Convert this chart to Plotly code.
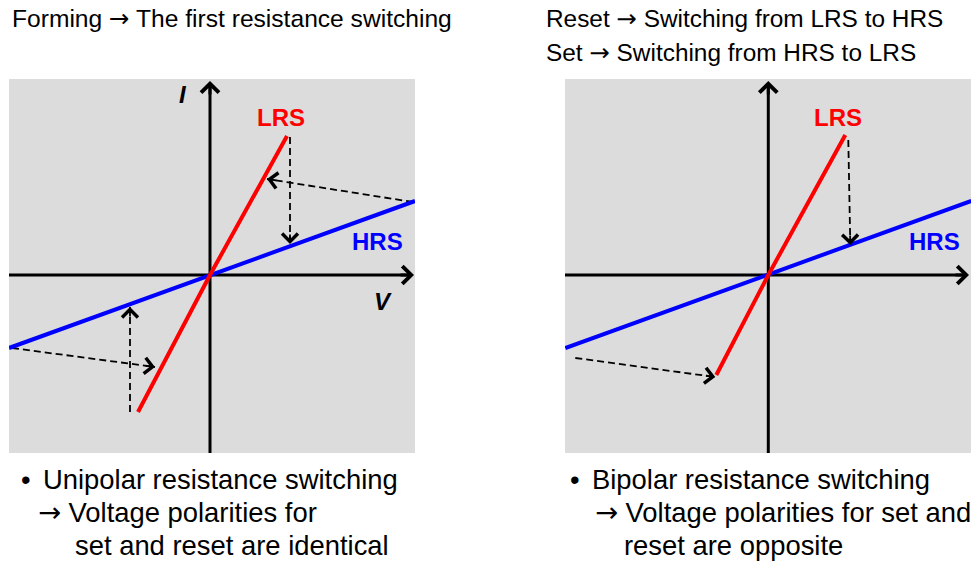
import math
import plotly.graph_objects as go

W, H = 979, 562
FONT = "Liberation Sans, Arial, sans-serif"
BG = "#DCDCDC"
ARROW = '<span style="font-family:DejaVu Sans">\u2192</span>'

# ---- I-V branches (V, I in arbitrary units) ----
# unipolar switching panel
uni_lrs_v = [-0.72, 0.0, 0.77]
uni_lrs_i = [-1.37, 0.0, 1.39]
uni_hrs_v = [-2.01, 0.0, 2.05]
uni_hrs_i = [-0.73, 0.0, 0.74]

# bipolar switching panel
bi_lrs_v = [-0.52, 0.0, 0.77]
bi_lrs_i = [-1.00, 0.0, 1.40]
bi_hrs_v = [-2.03, 0.0, 2.03]
bi_hrs_i = [-0.73, 0.0, 0.74]

# switching paths: start V, start I, end V, end I
uni_paths_v0 = [0.80, 2.03, -1.98, -0.80]
uni_paths_i0 = [1.38, 0.73, -0.73, -1.37]
uni_paths_v1 = [0.80, 0.57, -0.55, -0.80]
uni_paths_i1 = [0.31, 0.96, -0.92, -0.32]

bi_paths_v0 = [0.80, -1.93]
bi_paths_i0 = [1.35, -0.83]
bi_paths_v1 = [0.82, -0.53]
bi_paths_i1 = [0.30, -1.02]

# axis extents (start of line, arrow tip)
uni_xrange = [-2.01, 2.05]
bi_xrange = [-2.033, 2.027]
yrange = [-1.78, 1.96]
uni_v_tip = 2.04
bi_v_tip = 2.007
i_tip = 1.94

fig = go.Figure()
annotations = []


def px_x(p):
    return p / W


def px_y(p):
    return 1 - p / H


def add_panel(xa, ya, xr, v_tip, lrs_v, lrs_i, hrs_v, hrs_i, pv0, pi0, pv1, pi1):
    # coordinate axes
    fig.add_trace(go.Scatter(x=[xr[0], v_tip - 0.03], y=[0, 0], mode="lines",
                             line=dict(color="black", width=3),
                             xaxis=xa, yaxis=ya, hoverinfo="skip"))
    fig.add_trace(go.Scatter(x=[0, 0], y=[yrange[0], i_tip - 0.03], mode="lines",
                             line=dict(color="black", width=3),
                             xaxis=xa, yaxis=ya, hoverinfo="skip"))
    for tx, ty, bx, by in [(v_tip, 0, v_tip - 0.15, 0), (0, i_tip, 0, i_tip - 0.15)]:
        annotations.append(dict(x=tx, y=ty, ax=bx, ay=by, xref=xa, yref=ya,
                                axref=xa, ayref=ya, text="", showarrow=True,
                                arrowhead=4, arrowwidth=3, arrowsize=1.15,
                                arrowcolor="black"))
    # dashed switching paths, each ending in an open arrowhead
    for v0, i0, v1, i1 in zip(pv0, pi0, pv1, pi1):
        fig.add_trace(go.Scatter(x=[v0, v1], y=[i0, i1], mode="lines",
                                 line=dict(color="black", width=1.8, dash="7px,4px"),
                                 xaxis=xa, yaxis=ya, hoverinfo="skip"))
        d = math.hypot(v1 - v0, i1 - i0)
        annotations.append(dict(x=v1, y=i1,
                                ax=v1 - 0.11 * (v1 - v0) / d,
                                ay=i1 - 0.11 * (i1 - i0) / d,
                                xref=xa, yref=ya, axref=xa, ayref=ya, text="",
                                showarrow=True, arrowhead=4, arrowwidth=1.8,
                                arrowsize=1.7, arrowcolor="black"))
    # HRS and LRS branches
    fig.add_trace(go.Scatter(x=hrs_v, y=hrs_i, mode="lines",
                             line=dict(color="#0000FF", width=4),
                             xaxis=xa, yaxis=ya, hoverinfo="skip"))
    fig.add_trace(go.Scatter(x=lrs_v, y=lrs_i, mode="lines",
                             line=dict(color="#FF0000", width=4),
                             xaxis=xa, yaxis=ya, hoverinfo="skip"))


add_panel("x", "y", uni_xrange, uni_v_tip, uni_lrs_v, uni_lrs_i, uni_hrs_v, uni_hrs_i,
          uni_paths_v0, uni_paths_i0, uni_paths_v1, uni_paths_i1)
add_panel("x2", "y2", bi_xrange, bi_v_tip, bi_lrs_v, bi_lrs_i, bi_hrs_v, bi_hrs_i,
          bi_paths_v0, bi_paths_i0, bi_paths_v1, bi_paths_i1)


def label(xa, ya, v, i, text, color, italic=False):
    t = f"<b><i>{text}</i></b>" if italic else f"<b>{text}</b>"
    annotations.append(dict(x=v, y=i, xref=xa, yref=ya, text=t, showarrow=False,
                            xanchor="center", yanchor="middle",
                            font=dict(family=FONT, size=24, color=color)))


label("x", "y", 0.71, 1.575, "LRS", "#FF0000")
label("x", "y", 1.67, 0.33, "HRS", "#0000FF")
label("x", "y", -0.27, 1.80, "I", "black", italic=True)
label("x", "y", 1.73, -0.265, "V", "black", italic=True)
label("x2", "y2", 0.70, 1.575, "LRS", "#FF0000")
label("x2", "y2", 1.66, 0.33, "HRS", "#0000FF")


def text(xp, yp, s, size):
    annotations.append(dict(x=px_x(xp), y=px_y(yp), xref="paper", yref="paper",
                            text=s, showarrow=False, xanchor="left", yanchor="middle",
                            font=dict(family=FONT, size=size, color="black")))


text(10, 18, f"Forming {ARROW} The first resistance switching", 24.6)
text(544, 18, f"Reset {ARROW} Switching from LRS to HRS", 24.4)
text(544, 52, f"Set {ARROW} Switching from HRS to LRS", 24.4)

text(19, 479, "\u2022", 27.4)
text(41, 479, "Unipolar resistance switching", 27.4)
text(36, 512, f"{ARROW} Voltage polarities for", 27.4)
text(73, 545, "set and reset are identical", 27.4)

text(568, 479, "\u2022", 27.4)
text(590, 479, "Bipolar resistance switching", 27.4)
text(593, 512, f"{ARROW} Voltage polarities for set and", 27.4)
text(622, 545, "reset are opposite", 27.4)

axis_common = dict(showgrid=False, zeroline=False, showticklabels=False,
                   ticks="", showline=False, fixedrange=True)
ydom = [px_y(453), px_y(79)]
fig.update_layout(
    width=W, height=H,
    margin=dict(l=0, r=0, t=0, b=0),
    paper_bgcolor="white",
    plot_bgcolor=BG,
    showlegend=False,
    xaxis=dict(domain=[px_x(9), px_x(415)], range=uni_xrange, **axis_common),
    yaxis=dict(domain=ydom, range=yrange, **axis_common),
    xaxis2=dict(domain=[px_x(565), px_x(971)], range=bi_xrange, anchor="y2", **axis_common),
    yaxis2=dict(domain=ydom, range=yrange, anchor="x2", **axis_common),
    annotations=annotations,
)

fig.write_html("out.html", config=dict(displayModeBar=False))
